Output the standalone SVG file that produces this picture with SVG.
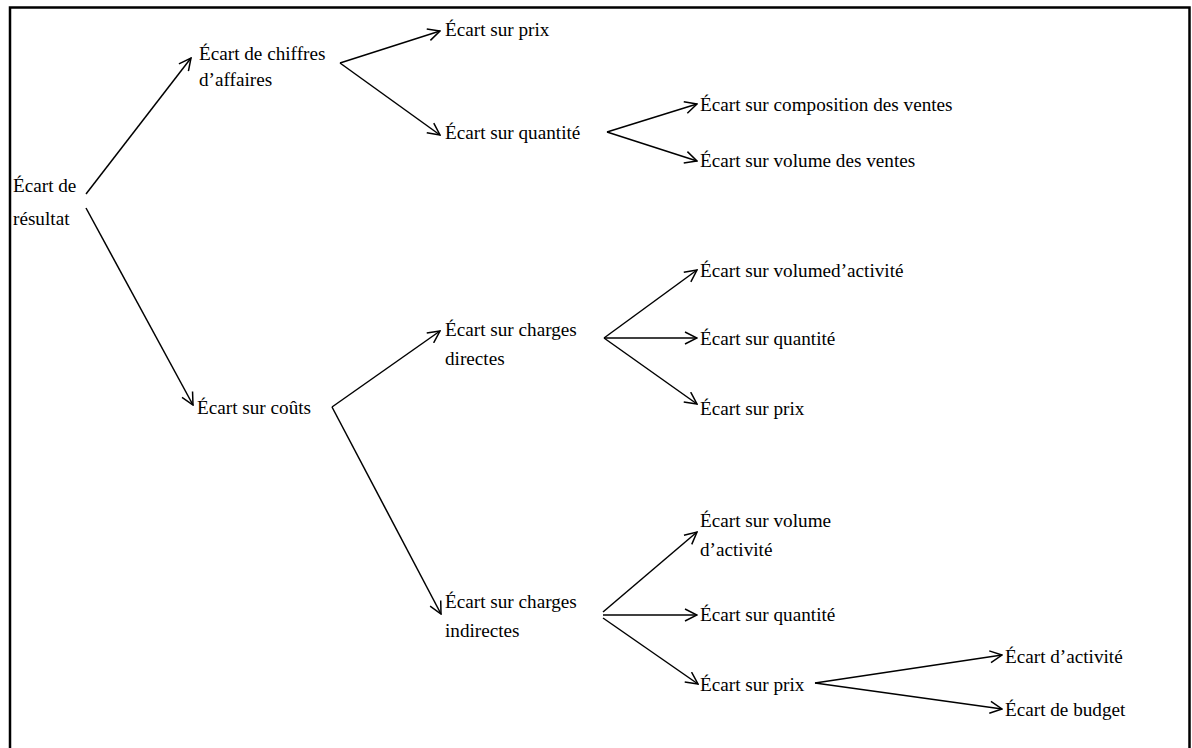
<svg xmlns="http://www.w3.org/2000/svg" width="1192" height="748" viewBox="0 0 1192 748">
  <style>
    text { font-family: "Liberation Serif", "Times New Roman", serif; font-size: 19.2px; fill: #000; }
    .link { fill: none; stroke: #000; stroke-width: 1.5; marker-end: url(#ah); }
    .frame { fill: none; stroke: #000; stroke-width: 2.5; }
  </style>
  <defs>
    <marker id="ah" viewBox="0 0 14 14" refX="13" refY="7" markerWidth="14" markerHeight="14" orient="auto" markerUnits="userSpaceOnUse">
      <path d="M1,1 L13,7 L1,13" fill="none" stroke="#000" stroke-width="1.5"/>
    </marker>
  </defs>
  <rect width="1192" height="748" fill="#fff"/>
  <!-- open frame: top, left and right sides -->
  <path class="frame" d="M10,750 V7.5 H1189.5 V750"/>

  <g id="connectors">
    <line class="link" x1="86" y1="194" x2="191" y2="58"/>
    <line class="link" x1="86" y1="208" x2="193" y2="405"/>
    <line class="link" x1="340" y1="63" x2="440" y2="31"/>
    <line class="link" x1="340" y1="63" x2="440" y2="135"/>
    <line class="link" x1="607" y1="132" x2="697" y2="104"/>
    <line class="link" x1="607" y1="132" x2="697" y2="161"/>
    <line class="link" x1="332" y1="407" x2="440" y2="331"/>
    <line class="link" x1="332" y1="407" x2="441" y2="614"/>
    <line class="link" x1="604" y1="338" x2="697" y2="270"/>
    <line class="link" x1="604" y1="338" x2="697" y2="338"/>
    <line class="link" x1="604" y1="338" x2="697" y2="404"/>
    <line class="link" x1="603" y1="612" x2="697" y2="532"/>
    <line class="link" x1="603" y1="615" x2="697" y2="615"/>
    <line class="link" x1="603" y1="618" x2="698" y2="684"/>
    <line class="link" x1="815" y1="683" x2="1002" y2="655"/>
    <line class="link" x1="815" y1="683" x2="1002" y2="709"/>
  </g>

  <g id="n-resultat"><text x="13" y="192">Écart de</text><text x="13" y="225">résultat</text></g>
  <g id="n-ca"><text x="199" y="60">Écart de chiffres</text><text x="199" y="86">d’affaires</text></g>
  <g id="n-ca-prix"><text x="445" y="36">Écart sur prix</text></g>
  <g id="n-ca-quantite"><text x="445" y="139">Écart sur quantité</text></g>
  <g id="n-composition"><text x="700" y="111">Écart sur composition des ventes</text></g>
  <g id="n-volume-ventes"><text x="700" y="167">Écart sur volume des ventes</text></g>
  <g id="n-couts"><text x="197" y="414">Écart sur coûts</text></g>
  <g id="n-directes"><text x="445" y="336">Écart sur charges</text><text x="445" y="365">directes</text></g>
  <g id="n-d-volume"><text x="700" y="277">Écart sur volumed’activité</text></g>
  <g id="n-d-quantite"><text x="700" y="345">Écart sur quantité</text></g>
  <g id="n-d-prix"><text x="700" y="415">Écart sur prix</text></g>
  <g id="n-indirectes"><text x="445" y="608">Écart sur charges</text><text x="445" y="637">indirectes</text></g>
  <g id="n-i-volume"><text x="700" y="527">Écart sur volume</text><text x="700" y="556">d’activité</text></g>
  <g id="n-i-quantite"><text x="700" y="621">Écart sur quantité</text></g>
  <g id="n-i-prix"><text x="700" y="691">Écart sur prix</text></g>
  <g id="n-activite"><text x="1005" y="663">Écart d’activité</text></g>
  <g id="n-budget"><text x="1005" y="716">Écart de budget</text></g>
</svg>
